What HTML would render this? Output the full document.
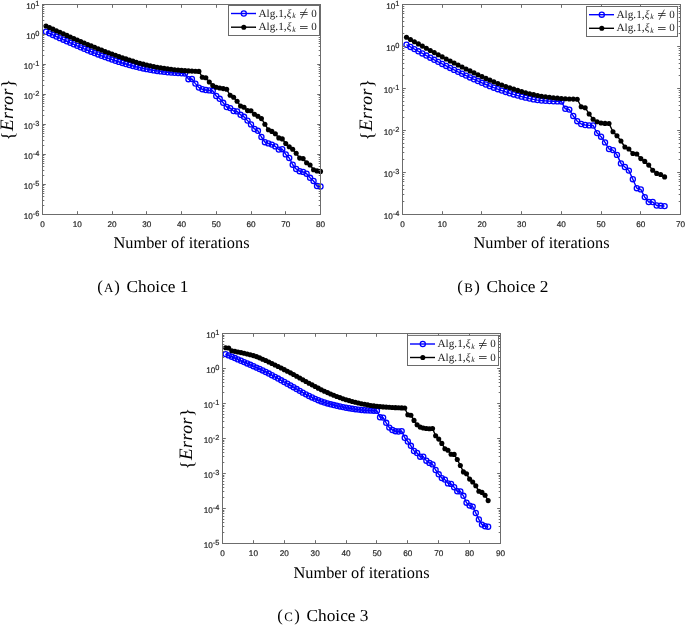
<!DOCTYPE html>
<html>
<head>
<meta charset="utf-8">
<title>Error vs. number of iterations</title>
<style>
html, body { margin: 0; padding: 0; background: #ffffff; }
body { width: 685px; height: 625px; overflow: hidden; font-family: "Liberation Sans", sans-serif; }
svg { display: block; }
.txt { filter: grayscale(1); }
</style>
</head>
<body>
<svg width="685" height="625" viewBox="0 0 685 625" text-rendering="geometricPrecision">
<rect width="685" height="625" fill="#ffffff"/>
<path d="M45.98 31.76 L49.45 33.37 L52.92 34.96 L56.4 36.55 L59.88 38.13 L63.35 39.7 L66.83 41.26 L70.3 42.8 L73.78 44.33 L77.25 45.84 L80.72 47.33 L84.2 48.8 L87.68 50.25 L91.15 51.68 L94.62 53.07 L98.1 54.44 L101.58 55.78 L105.05 57.08 L108.53 58.34 L112 59.57 L115.48 60.75 L118.95 61.88 L122.42 62.97 L125.9 64.01 L129.38 65 L132.85 65.94 L136.32 66.83 L139.8 67.66 L143.28 68.43 L146.75 69.15 L150.23 69.8 L153.7 70.39 L157.18 70.93 L160.65 71.42 L164.12 71.86 L167.6 72.25 L171.08 72.58 L174.55 72.87 L178.03 73.1 L181.5 73.3 L184.97 73.46 L188.45 79.2 L191.93 79 L195.4 83.6 L198.88 87.6 L202.35 89.2 L205.83 90 L209.3 90.4 L212.78 90.8 L216.25 96 L219.72 98.8 L223.2 102.8 L226.68 107 L230.15 108.1 L233.62 111 L237.1 111.4 L240.58 114.8 L244.05 116.8 L247.53 120.6 L251 124.4 L254.47 129 L257.95 130.8 L261.43 137 L264.9 142.2 L268.38 143.4 L271.85 144.6 L275.33 146.4 L278.8 149.6 L282.27 149.2 L285.75 154.4 L289.23 158 L292.7 164.7 L296.18 169 L299.65 171.2 L303.12 171.9 L306.6 173.7 L310.07 177.8 L313.55 181 L317.03 186 L320.5 186.5" fill="none" stroke="#0000ff" stroke-width="1.4" stroke-linejoin="round"/>
<g fill="none" stroke="#0000ff" stroke-width="1.3">
<circle cx="45.98" cy="31.76" r="2.55"/>
<circle cx="49.45" cy="33.37" r="2.55"/>
<circle cx="52.92" cy="34.96" r="2.55"/>
<circle cx="56.4" cy="36.55" r="2.55"/>
<circle cx="59.88" cy="38.13" r="2.55"/>
<circle cx="63.35" cy="39.7" r="2.55"/>
<circle cx="66.83" cy="41.26" r="2.55"/>
<circle cx="70.3" cy="42.8" r="2.55"/>
<circle cx="73.78" cy="44.33" r="2.55"/>
<circle cx="77.25" cy="45.84" r="2.55"/>
<circle cx="80.72" cy="47.33" r="2.55"/>
<circle cx="84.2" cy="48.8" r="2.55"/>
<circle cx="87.68" cy="50.25" r="2.55"/>
<circle cx="91.15" cy="51.68" r="2.55"/>
<circle cx="94.62" cy="53.07" r="2.55"/>
<circle cx="98.1" cy="54.44" r="2.55"/>
<circle cx="101.58" cy="55.78" r="2.55"/>
<circle cx="105.05" cy="57.08" r="2.55"/>
<circle cx="108.53" cy="58.34" r="2.55"/>
<circle cx="112" cy="59.57" r="2.55"/>
<circle cx="115.48" cy="60.75" r="2.55"/>
<circle cx="118.95" cy="61.88" r="2.55"/>
<circle cx="122.42" cy="62.97" r="2.55"/>
<circle cx="125.9" cy="64.01" r="2.55"/>
<circle cx="129.38" cy="65" r="2.55"/>
<circle cx="132.85" cy="65.94" r="2.55"/>
<circle cx="136.32" cy="66.83" r="2.55"/>
<circle cx="139.8" cy="67.66" r="2.55"/>
<circle cx="143.28" cy="68.43" r="2.55"/>
<circle cx="146.75" cy="69.15" r="2.55"/>
<circle cx="150.23" cy="69.8" r="2.55"/>
<circle cx="153.7" cy="70.39" r="2.55"/>
<circle cx="157.18" cy="70.93" r="2.55"/>
<circle cx="160.65" cy="71.42" r="2.55"/>
<circle cx="164.12" cy="71.86" r="2.55"/>
<circle cx="167.6" cy="72.25" r="2.55"/>
<circle cx="171.08" cy="72.58" r="2.55"/>
<circle cx="174.55" cy="72.87" r="2.55"/>
<circle cx="178.03" cy="73.1" r="2.55"/>
<circle cx="181.5" cy="73.3" r="2.55"/>
<circle cx="184.97" cy="73.46" r="2.55"/>
<circle cx="188.45" cy="79.2" r="2.55"/>
<circle cx="191.93" cy="79" r="2.55"/>
<circle cx="195.4" cy="83.6" r="2.55"/>
<circle cx="198.88" cy="87.6" r="2.55"/>
<circle cx="202.35" cy="89.2" r="2.55"/>
<circle cx="205.83" cy="90" r="2.55"/>
<circle cx="209.3" cy="90.4" r="2.55"/>
<circle cx="212.78" cy="90.8" r="2.55"/>
<circle cx="216.25" cy="96" r="2.55"/>
<circle cx="219.72" cy="98.8" r="2.55"/>
<circle cx="223.2" cy="102.8" r="2.55"/>
<circle cx="226.68" cy="107" r="2.55"/>
<circle cx="230.15" cy="108.1" r="2.55"/>
<circle cx="233.62" cy="111" r="2.55"/>
<circle cx="237.1" cy="111.4" r="2.55"/>
<circle cx="240.58" cy="114.8" r="2.55"/>
<circle cx="244.05" cy="116.8" r="2.55"/>
<circle cx="247.53" cy="120.6" r="2.55"/>
<circle cx="251" cy="124.4" r="2.55"/>
<circle cx="254.47" cy="129" r="2.55"/>
<circle cx="257.95" cy="130.8" r="2.55"/>
<circle cx="261.43" cy="137" r="2.55"/>
<circle cx="264.9" cy="142.2" r="2.55"/>
<circle cx="268.38" cy="143.4" r="2.55"/>
<circle cx="271.85" cy="144.6" r="2.55"/>
<circle cx="275.33" cy="146.4" r="2.55"/>
<circle cx="278.8" cy="149.6" r="2.55"/>
<circle cx="282.27" cy="149.2" r="2.55"/>
<circle cx="285.75" cy="154.4" r="2.55"/>
<circle cx="289.23" cy="158" r="2.55"/>
<circle cx="292.7" cy="164.7" r="2.55"/>
<circle cx="296.18" cy="169" r="2.55"/>
<circle cx="299.65" cy="171.2" r="2.55"/>
<circle cx="303.12" cy="171.9" r="2.55"/>
<circle cx="306.6" cy="173.7" r="2.55"/>
<circle cx="310.07" cy="177.8" r="2.55"/>
<circle cx="313.55" cy="181" r="2.55"/>
<circle cx="317.03" cy="186" r="2.55"/>
<circle cx="320.5" cy="186.5" r="2.55"/>
</g>
<path d="M45.98 25.97 L49.45 27.56 L52.92 29.14 L56.4 30.71 L59.88 32.28 L63.35 33.84 L66.83 35.39 L70.3 36.93 L73.78 38.46 L77.25 39.97 L80.72 41.48 L84.2 42.96 L87.68 44.43 L91.15 45.88 L94.62 47.31 L98.1 48.71 L101.58 50.09 L105.05 51.44 L108.53 52.76 L112 54.05 L115.48 55.3 L118.95 56.52 L122.42 57.71 L125.9 58.88 L129.38 60.02 L132.85 61.12 L136.32 62.19 L139.8 63.19 L143.28 64.14 L146.75 65.02 L150.23 65.83 L153.7 66.56 L157.18 67.23 L160.65 67.83 L164.12 68.37 L167.6 68.87 L171.08 69.31 L174.55 69.71 L178.03 70.08 L181.5 70.39 L184.97 70.67 L188.45 70.9 L191.93 71.1 L195.4 71.26 L198.88 71.4 L202.35 77.2 L205.83 77.8 L209.3 82 L212.78 85.6 L216.25 87.2 L219.72 88 L223.2 88.6 L226.68 89.3 L230.15 95.3 L233.62 97.3 L237.1 101.3 L240.58 106 L244.05 107.2 L247.53 110.6 L251 110.8 L254.47 114.2 L257.95 116.2 L261.43 118.6 L264.9 124.2 L268.38 129.8 L271.85 131.4 L275.33 133.8 L278.8 137.9 L282.27 138.9 L285.75 143.5 L289.23 146.8 L292.7 149.2 L296.18 153.2 L299.65 158.1 L303.12 158.6 L306.6 162.7 L310.07 165 L313.55 169.7 L317.03 170.9 L320.5 171.4" fill="none" stroke="#000" stroke-width="1.4" stroke-linejoin="round"/>
<g fill="#000">
<circle cx="45.98" cy="25.97" r="2.55"/>
<circle cx="49.45" cy="27.56" r="2.55"/>
<circle cx="52.92" cy="29.14" r="2.55"/>
<circle cx="56.4" cy="30.71" r="2.55"/>
<circle cx="59.88" cy="32.28" r="2.55"/>
<circle cx="63.35" cy="33.84" r="2.55"/>
<circle cx="66.83" cy="35.39" r="2.55"/>
<circle cx="70.3" cy="36.93" r="2.55"/>
<circle cx="73.78" cy="38.46" r="2.55"/>
<circle cx="77.25" cy="39.97" r="2.55"/>
<circle cx="80.72" cy="41.48" r="2.55"/>
<circle cx="84.2" cy="42.96" r="2.55"/>
<circle cx="87.68" cy="44.43" r="2.55"/>
<circle cx="91.15" cy="45.88" r="2.55"/>
<circle cx="94.62" cy="47.31" r="2.55"/>
<circle cx="98.1" cy="48.71" r="2.55"/>
<circle cx="101.58" cy="50.09" r="2.55"/>
<circle cx="105.05" cy="51.44" r="2.55"/>
<circle cx="108.53" cy="52.76" r="2.55"/>
<circle cx="112" cy="54.05" r="2.55"/>
<circle cx="115.48" cy="55.3" r="2.55"/>
<circle cx="118.95" cy="56.52" r="2.55"/>
<circle cx="122.42" cy="57.71" r="2.55"/>
<circle cx="125.9" cy="58.88" r="2.55"/>
<circle cx="129.38" cy="60.02" r="2.55"/>
<circle cx="132.85" cy="61.12" r="2.55"/>
<circle cx="136.32" cy="62.19" r="2.55"/>
<circle cx="139.8" cy="63.19" r="2.55"/>
<circle cx="143.28" cy="64.14" r="2.55"/>
<circle cx="146.75" cy="65.02" r="2.55"/>
<circle cx="150.23" cy="65.83" r="2.55"/>
<circle cx="153.7" cy="66.56" r="2.55"/>
<circle cx="157.18" cy="67.23" r="2.55"/>
<circle cx="160.65" cy="67.83" r="2.55"/>
<circle cx="164.12" cy="68.37" r="2.55"/>
<circle cx="167.6" cy="68.87" r="2.55"/>
<circle cx="171.08" cy="69.31" r="2.55"/>
<circle cx="174.55" cy="69.71" r="2.55"/>
<circle cx="178.03" cy="70.08" r="2.55"/>
<circle cx="181.5" cy="70.39" r="2.55"/>
<circle cx="184.97" cy="70.67" r="2.55"/>
<circle cx="188.45" cy="70.9" r="2.55"/>
<circle cx="191.93" cy="71.1" r="2.55"/>
<circle cx="195.4" cy="71.26" r="2.55"/>
<circle cx="198.88" cy="71.4" r="2.55"/>
<circle cx="202.35" cy="77.2" r="2.55"/>
<circle cx="205.83" cy="77.8" r="2.55"/>
<circle cx="209.3" cy="82" r="2.55"/>
<circle cx="212.78" cy="85.6" r="2.55"/>
<circle cx="216.25" cy="87.2" r="2.55"/>
<circle cx="219.72" cy="88" r="2.55"/>
<circle cx="223.2" cy="88.6" r="2.55"/>
<circle cx="226.68" cy="89.3" r="2.55"/>
<circle cx="230.15" cy="95.3" r="2.55"/>
<circle cx="233.62" cy="97.3" r="2.55"/>
<circle cx="237.1" cy="101.3" r="2.55"/>
<circle cx="240.58" cy="106" r="2.55"/>
<circle cx="244.05" cy="107.2" r="2.55"/>
<circle cx="247.53" cy="110.6" r="2.55"/>
<circle cx="251" cy="110.8" r="2.55"/>
<circle cx="254.47" cy="114.2" r="2.55"/>
<circle cx="257.95" cy="116.2" r="2.55"/>
<circle cx="261.43" cy="118.6" r="2.55"/>
<circle cx="264.9" cy="124.2" r="2.55"/>
<circle cx="268.38" cy="129.8" r="2.55"/>
<circle cx="271.85" cy="131.4" r="2.55"/>
<circle cx="275.33" cy="133.8" r="2.55"/>
<circle cx="278.8" cy="137.9" r="2.55"/>
<circle cx="282.27" cy="138.9" r="2.55"/>
<circle cx="285.75" cy="143.5" r="2.55"/>
<circle cx="289.23" cy="146.8" r="2.55"/>
<circle cx="292.7" cy="149.2" r="2.55"/>
<circle cx="296.18" cy="153.2" r="2.55"/>
<circle cx="299.65" cy="158.1" r="2.55"/>
<circle cx="303.12" cy="158.6" r="2.55"/>
<circle cx="306.6" cy="162.7" r="2.55"/>
<circle cx="310.07" cy="165" r="2.55"/>
<circle cx="313.55" cy="169.7" r="2.55"/>
<circle cx="317.03" cy="170.9" r="2.55"/>
<circle cx="320.5" cy="171.4" r="2.55"/>
</g>
<path d="M42.5 214.5 v-3.3 M42.5 4.5 v3.3 M77.5 214.5 v-3.3 M77.5 4.5 v3.3 M112.5 214.5 v-3.3 M112.5 4.5 v3.3 M146.5 214.5 v-3.3 M146.5 4.5 v3.3 M181.5 214.5 v-3.3 M181.5 4.5 v3.3 M216.5 214.5 v-3.3 M216.5 4.5 v3.3 M251.5 214.5 v-3.3 M251.5 4.5 v3.3 M285.5 214.5 v-3.3 M285.5 4.5 v3.3 M320.5 214.5 v-3.3 M320.5 4.5 v3.3 M42.5 4.5 h3.3 M320.5 4.5 h-3.3 M42.5 25.5 h1.8 M320.5 25.5 h-1.8 M42.5 20.5 h1.8 M320.5 20.5 h-1.8 M42.5 16.5 h1.8 M320.5 16.5 h-1.8 M42.5 13.5 h1.8 M320.5 13.5 h-1.8 M42.5 11.5 h1.8 M320.5 11.5 h-1.8 M42.5 9.5 h1.8 M320.5 9.5 h-1.8 M42.5 7.5 h1.8 M320.5 7.5 h-1.8 M42.5 5.5 h1.8 M320.5 5.5 h-1.8 M42.5 34.5 h3.3 M320.5 34.5 h-3.3 M42.5 55.5 h1.8 M320.5 55.5 h-1.8 M42.5 50.5 h1.8 M320.5 50.5 h-1.8 M42.5 46.5 h1.8 M320.5 46.5 h-1.8 M42.5 43.5 h1.8 M320.5 43.5 h-1.8 M42.5 41.5 h1.8 M320.5 41.5 h-1.8 M42.5 39.5 h1.8 M320.5 39.5 h-1.8 M42.5 37.5 h1.8 M320.5 37.5 h-1.8 M42.5 35.5 h1.8 M320.5 35.5 h-1.8 M42.5 64.5 h3.3 M320.5 64.5 h-3.3 M42.5 85.5 h1.8 M320.5 85.5 h-1.8 M42.5 80.5 h1.8 M320.5 80.5 h-1.8 M42.5 76.5 h1.8 M320.5 76.5 h-1.8 M42.5 73.5 h1.8 M320.5 73.5 h-1.8 M42.5 71.5 h1.8 M320.5 71.5 h-1.8 M42.5 69.5 h1.8 M320.5 69.5 h-1.8 M42.5 67.5 h1.8 M320.5 67.5 h-1.8 M42.5 65.5 h1.8 M320.5 65.5 h-1.8 M42.5 94.5 h3.3 M320.5 94.5 h-3.3 M42.5 115.5 h1.8 M320.5 115.5 h-1.8 M42.5 110.5 h1.8 M320.5 110.5 h-1.8 M42.5 106.5 h1.8 M320.5 106.5 h-1.8 M42.5 103.5 h1.8 M320.5 103.5 h-1.8 M42.5 101.5 h1.8 M320.5 101.5 h-1.8 M42.5 99.5 h1.8 M320.5 99.5 h-1.8 M42.5 97.5 h1.8 M320.5 97.5 h-1.8 M42.5 95.5 h1.8 M320.5 95.5 h-1.8 M42.5 124.5 h3.3 M320.5 124.5 h-3.3 M42.5 145.5 h1.8 M320.5 145.5 h-1.8 M42.5 140.5 h1.8 M320.5 140.5 h-1.8 M42.5 136.5 h1.8 M320.5 136.5 h-1.8 M42.5 133.5 h1.8 M320.5 133.5 h-1.8 M42.5 131.5 h1.8 M320.5 131.5 h-1.8 M42.5 129.5 h1.8 M320.5 129.5 h-1.8 M42.5 127.5 h1.8 M320.5 127.5 h-1.8 M42.5 125.5 h1.8 M320.5 125.5 h-1.8 M42.5 154.5 h3.3 M320.5 154.5 h-3.3 M42.5 175.5 h1.8 M320.5 175.5 h-1.8 M42.5 170.5 h1.8 M320.5 170.5 h-1.8 M42.5 166.5 h1.8 M320.5 166.5 h-1.8 M42.5 163.5 h1.8 M320.5 163.5 h-1.8 M42.5 161.5 h1.8 M320.5 161.5 h-1.8 M42.5 159.5 h1.8 M320.5 159.5 h-1.8 M42.5 157.5 h1.8 M320.5 157.5 h-1.8 M42.5 155.5 h1.8 M320.5 155.5 h-1.8 M42.5 184.5 h3.3 M320.5 184.5 h-3.3 M42.5 205.5 h1.8 M320.5 205.5 h-1.8 M42.5 200.5 h1.8 M320.5 200.5 h-1.8 M42.5 196.5 h1.8 M320.5 196.5 h-1.8 M42.5 193.5 h1.8 M320.5 193.5 h-1.8 M42.5 191.5 h1.8 M320.5 191.5 h-1.8 M42.5 189.5 h1.8 M320.5 189.5 h-1.8 M42.5 187.5 h1.8 M320.5 187.5 h-1.8 M42.5 185.5 h1.8 M320.5 185.5 h-1.8 M42.5 214.5 h3.3 M320.5 214.5 h-3.3" fill="none" stroke="#6c6c6c" stroke-width="1"/>
<rect x="42.5" y="4.5" width="278" height="210" fill="none" stroke="#6c6c6c" stroke-width="1.0"/>
<rect x="228.5" y="5.5" width="91" height="30" fill="#fff" stroke="#6a6a6a" stroke-width="1"/>
<path d="M231 13.5 H256" stroke="#0000ff" stroke-width="1.4"/>
<circle cx="243.8" cy="13.5" r="2.55" fill="none" stroke="#0000ff" stroke-width="1.3"/>
<path d="M231 27.2 H256" stroke="#000" stroke-width="1.4"/>
<circle cx="243.8" cy="27.2" r="2.55" fill="#000"/>
<path d="M300 12.5 h7.6 M300 14.5 h7.6 M301.2 18.65 L306.3 8.45" fill="none" stroke="#1a1a1a" stroke-width="0.75"/>
<path d="M300 26.5 h7.6 M300 28.5 h7.6" fill="none" stroke="#1a1a1a" stroke-width="0.75"/>
<path d="M406.47 44.73 L410.44 46.93 L414.41 49.11 L418.39 51.28 L422.36 53.43 L426.33 55.57 L430.3 57.69 L434.27 59.79 L438.24 61.87 L442.21 63.93 L446.19 65.96 L450.16 67.96 L454.13 69.92 L458.1 71.86 L462.07 73.75 L466.04 75.62 L470.01 77.46 L473.99 79.28 L477.96 81.07 L481.93 82.81 L485.9 84.5 L489.87 86.13 L493.84 87.69 L497.81 89.18 L501.79 90.59 L505.76 91.94 L509.73 93.23 L513.7 94.45 L517.67 95.6 L521.64 96.67 L525.61 97.66 L529.59 98.57 L533.56 99.38 L537.53 100.09 L541.5 100.57 L545.47 100.87 L549.44 101.1 L553.41 101.29 L557.39 101.41 L561.36 101.45 L565.33 108.8 L569.3 109.6 L573.27 116 L577.24 121.2 L581.21 124 L585.19 125 L589.16 125.4 L593.13 125.5 L597.1 133.1 L601.07 136.7 L605.04 142.4 L609.01 149 L612.99 150.1 L616.96 154.9 L620.93 163.4 L624.9 167 L628.87 170.6 L632.84 179.2 L636.81 188.2 L640.79 189.4 L644.76 197.1 L648.73 202 L652.7 202 L656.67 205.5 L660.64 205.8 L664.61 206.1" fill="none" stroke="#0000ff" stroke-width="1.4" stroke-linejoin="round"/>
<g fill="none" stroke="#0000ff" stroke-width="1.3">
<circle cx="406.47" cy="44.73" r="2.55"/>
<circle cx="410.44" cy="46.93" r="2.55"/>
<circle cx="414.41" cy="49.11" r="2.55"/>
<circle cx="418.39" cy="51.28" r="2.55"/>
<circle cx="422.36" cy="53.43" r="2.55"/>
<circle cx="426.33" cy="55.57" r="2.55"/>
<circle cx="430.3" cy="57.69" r="2.55"/>
<circle cx="434.27" cy="59.79" r="2.55"/>
<circle cx="438.24" cy="61.87" r="2.55"/>
<circle cx="442.21" cy="63.93" r="2.55"/>
<circle cx="446.19" cy="65.96" r="2.55"/>
<circle cx="450.16" cy="67.96" r="2.55"/>
<circle cx="454.13" cy="69.92" r="2.55"/>
<circle cx="458.1" cy="71.86" r="2.55"/>
<circle cx="462.07" cy="73.75" r="2.55"/>
<circle cx="466.04" cy="75.62" r="2.55"/>
<circle cx="470.01" cy="77.46" r="2.55"/>
<circle cx="473.99" cy="79.28" r="2.55"/>
<circle cx="477.96" cy="81.07" r="2.55"/>
<circle cx="481.93" cy="82.81" r="2.55"/>
<circle cx="485.9" cy="84.5" r="2.55"/>
<circle cx="489.87" cy="86.13" r="2.55"/>
<circle cx="493.84" cy="87.69" r="2.55"/>
<circle cx="497.81" cy="89.18" r="2.55"/>
<circle cx="501.79" cy="90.59" r="2.55"/>
<circle cx="505.76" cy="91.94" r="2.55"/>
<circle cx="509.73" cy="93.23" r="2.55"/>
<circle cx="513.7" cy="94.45" r="2.55"/>
<circle cx="517.67" cy="95.6" r="2.55"/>
<circle cx="521.64" cy="96.67" r="2.55"/>
<circle cx="525.61" cy="97.66" r="2.55"/>
<circle cx="529.59" cy="98.57" r="2.55"/>
<circle cx="533.56" cy="99.38" r="2.55"/>
<circle cx="537.53" cy="100.09" r="2.55"/>
<circle cx="541.5" cy="100.57" r="2.55"/>
<circle cx="545.47" cy="100.87" r="2.55"/>
<circle cx="549.44" cy="101.1" r="2.55"/>
<circle cx="553.41" cy="101.29" r="2.55"/>
<circle cx="557.39" cy="101.41" r="2.55"/>
<circle cx="561.36" cy="101.45" r="2.55"/>
<circle cx="565.33" cy="108.8" r="2.55"/>
<circle cx="569.3" cy="109.6" r="2.55"/>
<circle cx="573.27" cy="116" r="2.55"/>
<circle cx="577.24" cy="121.2" r="2.55"/>
<circle cx="581.21" cy="124" r="2.55"/>
<circle cx="585.19" cy="125" r="2.55"/>
<circle cx="589.16" cy="125.4" r="2.55"/>
<circle cx="593.13" cy="125.5" r="2.55"/>
<circle cx="597.1" cy="133.1" r="2.55"/>
<circle cx="601.07" cy="136.7" r="2.55"/>
<circle cx="605.04" cy="142.4" r="2.55"/>
<circle cx="609.01" cy="149" r="2.55"/>
<circle cx="612.99" cy="150.1" r="2.55"/>
<circle cx="616.96" cy="154.9" r="2.55"/>
<circle cx="620.93" cy="163.4" r="2.55"/>
<circle cx="624.9" cy="167" r="2.55"/>
<circle cx="628.87" cy="170.6" r="2.55"/>
<circle cx="632.84" cy="179.2" r="2.55"/>
<circle cx="636.81" cy="188.2" r="2.55"/>
<circle cx="640.79" cy="189.4" r="2.55"/>
<circle cx="644.76" cy="197.1" r="2.55"/>
<circle cx="648.73" cy="202" r="2.55"/>
<circle cx="652.7" cy="202" r="2.55"/>
<circle cx="656.67" cy="205.5" r="2.55"/>
<circle cx="660.64" cy="205.8" r="2.55"/>
<circle cx="664.61" cy="206.1" r="2.55"/>
</g>
<path d="M406.47 37.27 L410.44 39.49 L414.41 41.71 L418.39 43.91 L422.36 46.1 L426.33 48.28 L430.3 50.45 L434.27 52.6 L438.24 54.73 L442.21 56.84 L446.19 58.93 L450.16 60.99 L454.13 63.03 L458.1 65.04 L462.07 67.01 L466.04 68.97 L470.01 70.91 L473.99 72.84 L477.96 74.73 L481.93 76.59 L485.9 78.39 L489.87 80.14 L493.84 81.83 L497.81 83.44 L501.79 84.97 L505.76 86.44 L509.73 87.84 L513.7 89.17 L517.67 90.42 L521.64 91.6 L525.61 92.7 L529.59 93.71 L533.56 94.63 L537.53 95.47 L541.5 96.19 L545.47 96.8 L549.44 97.32 L553.41 97.76 L557.39 98.15 L561.36 98.49 L565.33 98.76 L569.3 98.97 L573.27 99.12 L577.24 99.22 L581.21 106.8 L585.19 107.7 L589.16 114 L593.13 119.3 L597.1 121.7 L601.07 123 L605.04 123.4 L609.01 123.5 L612.99 131.7 L616.96 135.7 L620.93 141 L624.9 147 L628.87 149 L632.84 153.5 L636.81 154 L640.79 158.6 L644.76 161.4 L648.73 165.1 L652.7 170.2 L656.67 173.4 L660.64 174.5 L664.61 176.9" fill="none" stroke="#000" stroke-width="1.4" stroke-linejoin="round"/>
<g fill="#000">
<circle cx="406.47" cy="37.27" r="2.55"/>
<circle cx="410.44" cy="39.49" r="2.55"/>
<circle cx="414.41" cy="41.71" r="2.55"/>
<circle cx="418.39" cy="43.91" r="2.55"/>
<circle cx="422.36" cy="46.1" r="2.55"/>
<circle cx="426.33" cy="48.28" r="2.55"/>
<circle cx="430.3" cy="50.45" r="2.55"/>
<circle cx="434.27" cy="52.6" r="2.55"/>
<circle cx="438.24" cy="54.73" r="2.55"/>
<circle cx="442.21" cy="56.84" r="2.55"/>
<circle cx="446.19" cy="58.93" r="2.55"/>
<circle cx="450.16" cy="60.99" r="2.55"/>
<circle cx="454.13" cy="63.03" r="2.55"/>
<circle cx="458.1" cy="65.04" r="2.55"/>
<circle cx="462.07" cy="67.01" r="2.55"/>
<circle cx="466.04" cy="68.97" r="2.55"/>
<circle cx="470.01" cy="70.91" r="2.55"/>
<circle cx="473.99" cy="72.84" r="2.55"/>
<circle cx="477.96" cy="74.73" r="2.55"/>
<circle cx="481.93" cy="76.59" r="2.55"/>
<circle cx="485.9" cy="78.39" r="2.55"/>
<circle cx="489.87" cy="80.14" r="2.55"/>
<circle cx="493.84" cy="81.83" r="2.55"/>
<circle cx="497.81" cy="83.44" r="2.55"/>
<circle cx="501.79" cy="84.97" r="2.55"/>
<circle cx="505.76" cy="86.44" r="2.55"/>
<circle cx="509.73" cy="87.84" r="2.55"/>
<circle cx="513.7" cy="89.17" r="2.55"/>
<circle cx="517.67" cy="90.42" r="2.55"/>
<circle cx="521.64" cy="91.6" r="2.55"/>
<circle cx="525.61" cy="92.7" r="2.55"/>
<circle cx="529.59" cy="93.71" r="2.55"/>
<circle cx="533.56" cy="94.63" r="2.55"/>
<circle cx="537.53" cy="95.47" r="2.55"/>
<circle cx="541.5" cy="96.19" r="2.55"/>
<circle cx="545.47" cy="96.8" r="2.55"/>
<circle cx="549.44" cy="97.32" r="2.55"/>
<circle cx="553.41" cy="97.76" r="2.55"/>
<circle cx="557.39" cy="98.15" r="2.55"/>
<circle cx="561.36" cy="98.49" r="2.55"/>
<circle cx="565.33" cy="98.76" r="2.55"/>
<circle cx="569.3" cy="98.97" r="2.55"/>
<circle cx="573.27" cy="99.12" r="2.55"/>
<circle cx="577.24" cy="99.22" r="2.55"/>
<circle cx="581.21" cy="106.8" r="2.55"/>
<circle cx="585.19" cy="107.7" r="2.55"/>
<circle cx="589.16" cy="114" r="2.55"/>
<circle cx="593.13" cy="119.3" r="2.55"/>
<circle cx="597.1" cy="121.7" r="2.55"/>
<circle cx="601.07" cy="123" r="2.55"/>
<circle cx="605.04" cy="123.4" r="2.55"/>
<circle cx="609.01" cy="123.5" r="2.55"/>
<circle cx="612.99" cy="131.7" r="2.55"/>
<circle cx="616.96" cy="135.7" r="2.55"/>
<circle cx="620.93" cy="141" r="2.55"/>
<circle cx="624.9" cy="147" r="2.55"/>
<circle cx="628.87" cy="149" r="2.55"/>
<circle cx="632.84" cy="153.5" r="2.55"/>
<circle cx="636.81" cy="154" r="2.55"/>
<circle cx="640.79" cy="158.6" r="2.55"/>
<circle cx="644.76" cy="161.4" r="2.55"/>
<circle cx="648.73" cy="165.1" r="2.55"/>
<circle cx="652.7" cy="170.2" r="2.55"/>
<circle cx="656.67" cy="173.4" r="2.55"/>
<circle cx="660.64" cy="174.5" r="2.55"/>
<circle cx="664.61" cy="176.9" r="2.55"/>
</g>
<path d="M402.5 214.5 v-3.3 M402.5 4.5 v3.3 M442.5 214.5 v-3.3 M442.5 4.5 v3.3 M481.5 214.5 v-3.3 M481.5 4.5 v3.3 M521.5 214.5 v-3.3 M521.5 4.5 v3.3 M561.5 214.5 v-3.3 M561.5 4.5 v3.3 M601.5 214.5 v-3.3 M601.5 4.5 v3.3 M640.5 214.5 v-3.3 M640.5 4.5 v3.3 M680.5 214.5 v-3.3 M680.5 4.5 v3.3 M402.5 4.5 h3.3 M680.5 4.5 h-3.3 M402.5 33.5 h1.8 M680.5 33.5 h-1.8 M402.5 26.5 h1.8 M680.5 26.5 h-1.8 M402.5 21.5 h1.8 M680.5 21.5 h-1.8 M402.5 17.5 h1.8 M680.5 17.5 h-1.8 M402.5 13.5 h1.8 M680.5 13.5 h-1.8 M402.5 11.5 h1.8 M680.5 11.5 h-1.8 M402.5 8.5 h1.8 M680.5 8.5 h-1.8 M402.5 6.5 h1.8 M680.5 6.5 h-1.8 M402.5 46.5 h3.3 M680.5 46.5 h-3.3 M402.5 75.5 h1.8 M680.5 75.5 h-1.8 M402.5 68.5 h1.8 M680.5 68.5 h-1.8 M402.5 63.5 h1.8 M680.5 63.5 h-1.8 M402.5 59.5 h1.8 M680.5 59.5 h-1.8 M402.5 55.5 h1.8 M680.5 55.5 h-1.8 M402.5 53.5 h1.8 M680.5 53.5 h-1.8 M402.5 50.5 h1.8 M680.5 50.5 h-1.8 M402.5 48.5 h1.8 M680.5 48.5 h-1.8 M402.5 88.5 h3.3 M680.5 88.5 h-3.3 M402.5 117.5 h1.8 M680.5 117.5 h-1.8 M402.5 110.5 h1.8 M680.5 110.5 h-1.8 M402.5 105.5 h1.8 M680.5 105.5 h-1.8 M402.5 101.5 h1.8 M680.5 101.5 h-1.8 M402.5 97.5 h1.8 M680.5 97.5 h-1.8 M402.5 95.5 h1.8 M680.5 95.5 h-1.8 M402.5 92.5 h1.8 M680.5 92.5 h-1.8 M402.5 90.5 h1.8 M680.5 90.5 h-1.8 M402.5 130.5 h3.3 M680.5 130.5 h-3.3 M402.5 159.5 h1.8 M680.5 159.5 h-1.8 M402.5 152.5 h1.8 M680.5 152.5 h-1.8 M402.5 147.5 h1.8 M680.5 147.5 h-1.8 M402.5 143.5 h1.8 M680.5 143.5 h-1.8 M402.5 139.5 h1.8 M680.5 139.5 h-1.8 M402.5 137.5 h1.8 M680.5 137.5 h-1.8 M402.5 134.5 h1.8 M680.5 134.5 h-1.8 M402.5 132.5 h1.8 M680.5 132.5 h-1.8 M402.5 172.5 h3.3 M680.5 172.5 h-3.3 M402.5 201.5 h1.8 M680.5 201.5 h-1.8 M402.5 194.5 h1.8 M680.5 194.5 h-1.8 M402.5 189.5 h1.8 M680.5 189.5 h-1.8 M402.5 185.5 h1.8 M680.5 185.5 h-1.8 M402.5 181.5 h1.8 M680.5 181.5 h-1.8 M402.5 179.5 h1.8 M680.5 179.5 h-1.8 M402.5 176.5 h1.8 M680.5 176.5 h-1.8 M402.5 174.5 h1.8 M680.5 174.5 h-1.8 M402.5 214.5 h3.3 M680.5 214.5 h-3.3" fill="none" stroke="#6c6c6c" stroke-width="1"/>
<rect x="402.5" y="4.5" width="278" height="210" fill="none" stroke="#6c6c6c" stroke-width="1.0"/>
<rect x="586.5" y="6.5" width="91" height="30" fill="#fff" stroke="#6a6a6a" stroke-width="1"/>
<path d="M589 14.7 H614" stroke="#0000ff" stroke-width="1.4"/>
<circle cx="601.8" cy="14.7" r="2.55" fill="none" stroke="#0000ff" stroke-width="1.3"/>
<path d="M589 28.3 H614" stroke="#000" stroke-width="1.4"/>
<circle cx="601.8" cy="28.3" r="2.55" fill="#000"/>
<path d="M658 13.5 h7.6 M658 15.5 h7.6 M659.2 19.85 L664.3 9.65" fill="none" stroke="#1a1a1a" stroke-width="0.75"/>
<path d="M658 27.5 h7.6 M658 29.5 h7.6" fill="none" stroke="#1a1a1a" stroke-width="0.75"/>
<path d="M225.59 354.1 L228.68 355.41 L231.77 356.72 L234.86 358.05 L237.94 359.39 L241.03 360.75 L244.12 362.1 L247.21 363.45 L250.3 364.81 L253.39 366.18 L256.48 367.58 L259.57 369 L262.66 370.47 L265.74 371.98 L268.83 373.56 L271.92 375.18 L275.01 376.86 L278.1 378.56 L281.19 380.28 L284.28 382.01 L287.37 383.74 L290.46 385.46 L293.54 387.22 L296.63 389.03 L299.72 390.85 L302.81 392.64 L305.9 394.35 L308.99 395.95 L312.08 397.43 L315.17 398.85 L318.26 400.2 L321.34 401.43 L324.43 402.5 L327.52 403.43 L330.61 404.28 L333.7 405.05 L336.79 405.76 L339.88 406.43 L342.97 407.08 L346.06 407.7 L349.14 408.27 L352.23 408.78 L355.32 409.21 L358.41 409.6 L361.5 409.94 L364.59 410.2 L367.68 410.4 L370.77 410.58 L373.86 410.72 L376.94 410.8 L380.03 417.3 L383.12 417.6 L386.21 422.8 L389.3 427.6 L392.39 430 L395.48 431.2 L398.57 431.5 L401.66 431.1 L404.74 437.8 L407.83 441.5 L410.92 445.8 L414.01 451 L417.1 453 L420.19 456.7 L423.28 456.6 L426.37 460.7 L429.46 462.9 L432.54 464.4 L435.63 470 L438.72 474.3 L441.81 478.1 L444.9 479.6 L447.99 483.4 L451.08 483.9 L454.17 487.2 L457.26 491.3 L460.34 491.4 L463.43 495.8 L466.52 502.7 L469.61 505.6 L472.7 506.6 L475.79 513 L478.88 519.4 L481.97 524.6 L485.06 526.2 L488.14 526.7" fill="none" stroke="#0000ff" stroke-width="1.4" stroke-linejoin="round"/>
<g fill="none" stroke="#0000ff" stroke-width="1.3">
<circle cx="225.59" cy="354.1" r="2.55"/>
<circle cx="228.68" cy="355.41" r="2.55"/>
<circle cx="231.77" cy="356.72" r="2.55"/>
<circle cx="234.86" cy="358.05" r="2.55"/>
<circle cx="237.94" cy="359.39" r="2.55"/>
<circle cx="241.03" cy="360.75" r="2.55"/>
<circle cx="244.12" cy="362.1" r="2.55"/>
<circle cx="247.21" cy="363.45" r="2.55"/>
<circle cx="250.3" cy="364.81" r="2.55"/>
<circle cx="253.39" cy="366.18" r="2.55"/>
<circle cx="256.48" cy="367.58" r="2.55"/>
<circle cx="259.57" cy="369" r="2.55"/>
<circle cx="262.66" cy="370.47" r="2.55"/>
<circle cx="265.74" cy="371.98" r="2.55"/>
<circle cx="268.83" cy="373.56" r="2.55"/>
<circle cx="271.92" cy="375.18" r="2.55"/>
<circle cx="275.01" cy="376.86" r="2.55"/>
<circle cx="278.1" cy="378.56" r="2.55"/>
<circle cx="281.19" cy="380.28" r="2.55"/>
<circle cx="284.28" cy="382.01" r="2.55"/>
<circle cx="287.37" cy="383.74" r="2.55"/>
<circle cx="290.46" cy="385.46" r="2.55"/>
<circle cx="293.54" cy="387.22" r="2.55"/>
<circle cx="296.63" cy="389.03" r="2.55"/>
<circle cx="299.72" cy="390.85" r="2.55"/>
<circle cx="302.81" cy="392.64" r="2.55"/>
<circle cx="305.9" cy="394.35" r="2.55"/>
<circle cx="308.99" cy="395.95" r="2.55"/>
<circle cx="312.08" cy="397.43" r="2.55"/>
<circle cx="315.17" cy="398.85" r="2.55"/>
<circle cx="318.26" cy="400.2" r="2.55"/>
<circle cx="321.34" cy="401.43" r="2.55"/>
<circle cx="324.43" cy="402.5" r="2.55"/>
<circle cx="327.52" cy="403.43" r="2.55"/>
<circle cx="330.61" cy="404.28" r="2.55"/>
<circle cx="333.7" cy="405.05" r="2.55"/>
<circle cx="336.79" cy="405.76" r="2.55"/>
<circle cx="339.88" cy="406.43" r="2.55"/>
<circle cx="342.97" cy="407.08" r="2.55"/>
<circle cx="346.06" cy="407.7" r="2.55"/>
<circle cx="349.14" cy="408.27" r="2.55"/>
<circle cx="352.23" cy="408.78" r="2.55"/>
<circle cx="355.32" cy="409.21" r="2.55"/>
<circle cx="358.41" cy="409.6" r="2.55"/>
<circle cx="361.5" cy="409.94" r="2.55"/>
<circle cx="364.59" cy="410.2" r="2.55"/>
<circle cx="367.68" cy="410.4" r="2.55"/>
<circle cx="370.77" cy="410.58" r="2.55"/>
<circle cx="373.86" cy="410.72" r="2.55"/>
<circle cx="376.94" cy="410.8" r="2.55"/>
<circle cx="380.03" cy="417.3" r="2.55"/>
<circle cx="383.12" cy="417.6" r="2.55"/>
<circle cx="386.21" cy="422.8" r="2.55"/>
<circle cx="389.3" cy="427.6" r="2.55"/>
<circle cx="392.39" cy="430" r="2.55"/>
<circle cx="395.48" cy="431.2" r="2.55"/>
<circle cx="398.57" cy="431.5" r="2.55"/>
<circle cx="401.66" cy="431.1" r="2.55"/>
<circle cx="404.74" cy="437.8" r="2.55"/>
<circle cx="407.83" cy="441.5" r="2.55"/>
<circle cx="410.92" cy="445.8" r="2.55"/>
<circle cx="414.01" cy="451" r="2.55"/>
<circle cx="417.1" cy="453" r="2.55"/>
<circle cx="420.19" cy="456.7" r="2.55"/>
<circle cx="423.28" cy="456.6" r="2.55"/>
<circle cx="426.37" cy="460.7" r="2.55"/>
<circle cx="429.46" cy="462.9" r="2.55"/>
<circle cx="432.54" cy="464.4" r="2.55"/>
<circle cx="435.63" cy="470" r="2.55"/>
<circle cx="438.72" cy="474.3" r="2.55"/>
<circle cx="441.81" cy="478.1" r="2.55"/>
<circle cx="444.9" cy="479.6" r="2.55"/>
<circle cx="447.99" cy="483.4" r="2.55"/>
<circle cx="451.08" cy="483.9" r="2.55"/>
<circle cx="454.17" cy="487.2" r="2.55"/>
<circle cx="457.26" cy="491.3" r="2.55"/>
<circle cx="460.34" cy="491.4" r="2.55"/>
<circle cx="463.43" cy="495.8" r="2.55"/>
<circle cx="466.52" cy="502.7" r="2.55"/>
<circle cx="469.61" cy="505.6" r="2.55"/>
<circle cx="472.7" cy="506.6" r="2.55"/>
<circle cx="475.79" cy="513" r="2.55"/>
<circle cx="478.88" cy="519.4" r="2.55"/>
<circle cx="481.97" cy="524.6" r="2.55"/>
<circle cx="485.06" cy="526.2" r="2.55"/>
<circle cx="488.14" cy="526.7" r="2.55"/>
</g>
<path d="M225.59 347.8 L228.68 348 L231.77 350.8 L234.86 351.37 L237.94 351.97 L241.03 352.62 L244.12 353.28 L247.21 353.97 L250.3 354.73 L253.39 355.6 L256.48 356.64 L259.57 357.87 L262.66 359.19 L265.74 360.54 L268.83 361.95 L271.92 363.44 L275.01 364.98 L278.1 366.53 L281.19 368.07 L284.28 369.63 L287.37 371.22 L290.46 372.85 L293.54 374.53 L296.63 376.26 L299.72 378.01 L302.81 379.76 L305.9 381.5 L308.99 383.2 L312.08 384.86 L315.17 386.52 L318.26 388.15 L321.34 389.72 L324.43 391.2 L327.52 392.61 L330.61 393.97 L333.7 395.27 L336.79 396.49 L339.88 397.62 L342.97 398.68 L346.06 399.68 L349.14 400.62 L352.23 401.49 L355.32 402.29 L358.41 403.02 L361.5 403.69 L364.59 404.3 L367.68 404.88 L370.77 405.43 L373.86 405.91 L376.94 406.3 L380.03 406.61 L383.12 406.88 L386.21 407.12 L389.3 407.32 L392.39 407.5 L395.48 407.66 L398.57 407.79 L401.66 407.91 L404.74 408 L407.83 414.7 L410.92 415.2 L414.01 420.4 L417.1 424.8 L420.19 427.1 L423.28 428 L426.37 428.5 L429.46 428.7 L432.54 428.5 L435.63 435.7 L438.72 439.1 L441.81 443.4 L444.9 448.7 L447.99 450.2 L451.08 454.3 L454.17 454.4 L457.26 459.5 L460.34 465.5 L463.43 471.9 L466.52 473.8 L469.61 479.1 L472.7 482 L475.79 485.8 L478.88 491.2 L481.97 492.4 L485.06 495.2 L488.14 500.6" fill="none" stroke="#000" stroke-width="1.4" stroke-linejoin="round"/>
<g fill="#000">
<circle cx="225.59" cy="347.8" r="2.55"/>
<circle cx="228.68" cy="348" r="2.55"/>
<circle cx="231.77" cy="350.8" r="2.55"/>
<circle cx="234.86" cy="351.37" r="2.55"/>
<circle cx="237.94" cy="351.97" r="2.55"/>
<circle cx="241.03" cy="352.62" r="2.55"/>
<circle cx="244.12" cy="353.28" r="2.55"/>
<circle cx="247.21" cy="353.97" r="2.55"/>
<circle cx="250.3" cy="354.73" r="2.55"/>
<circle cx="253.39" cy="355.6" r="2.55"/>
<circle cx="256.48" cy="356.64" r="2.55"/>
<circle cx="259.57" cy="357.87" r="2.55"/>
<circle cx="262.66" cy="359.19" r="2.55"/>
<circle cx="265.74" cy="360.54" r="2.55"/>
<circle cx="268.83" cy="361.95" r="2.55"/>
<circle cx="271.92" cy="363.44" r="2.55"/>
<circle cx="275.01" cy="364.98" r="2.55"/>
<circle cx="278.1" cy="366.53" r="2.55"/>
<circle cx="281.19" cy="368.07" r="2.55"/>
<circle cx="284.28" cy="369.63" r="2.55"/>
<circle cx="287.37" cy="371.22" r="2.55"/>
<circle cx="290.46" cy="372.85" r="2.55"/>
<circle cx="293.54" cy="374.53" r="2.55"/>
<circle cx="296.63" cy="376.26" r="2.55"/>
<circle cx="299.72" cy="378.01" r="2.55"/>
<circle cx="302.81" cy="379.76" r="2.55"/>
<circle cx="305.9" cy="381.5" r="2.55"/>
<circle cx="308.99" cy="383.2" r="2.55"/>
<circle cx="312.08" cy="384.86" r="2.55"/>
<circle cx="315.17" cy="386.52" r="2.55"/>
<circle cx="318.26" cy="388.15" r="2.55"/>
<circle cx="321.34" cy="389.72" r="2.55"/>
<circle cx="324.43" cy="391.2" r="2.55"/>
<circle cx="327.52" cy="392.61" r="2.55"/>
<circle cx="330.61" cy="393.97" r="2.55"/>
<circle cx="333.7" cy="395.27" r="2.55"/>
<circle cx="336.79" cy="396.49" r="2.55"/>
<circle cx="339.88" cy="397.62" r="2.55"/>
<circle cx="342.97" cy="398.68" r="2.55"/>
<circle cx="346.06" cy="399.68" r="2.55"/>
<circle cx="349.14" cy="400.62" r="2.55"/>
<circle cx="352.23" cy="401.49" r="2.55"/>
<circle cx="355.32" cy="402.29" r="2.55"/>
<circle cx="358.41" cy="403.02" r="2.55"/>
<circle cx="361.5" cy="403.69" r="2.55"/>
<circle cx="364.59" cy="404.3" r="2.55"/>
<circle cx="367.68" cy="404.88" r="2.55"/>
<circle cx="370.77" cy="405.43" r="2.55"/>
<circle cx="373.86" cy="405.91" r="2.55"/>
<circle cx="376.94" cy="406.3" r="2.55"/>
<circle cx="380.03" cy="406.61" r="2.55"/>
<circle cx="383.12" cy="406.88" r="2.55"/>
<circle cx="386.21" cy="407.12" r="2.55"/>
<circle cx="389.3" cy="407.32" r="2.55"/>
<circle cx="392.39" cy="407.5" r="2.55"/>
<circle cx="395.48" cy="407.66" r="2.55"/>
<circle cx="398.57" cy="407.79" r="2.55"/>
<circle cx="401.66" cy="407.91" r="2.55"/>
<circle cx="404.74" cy="408" r="2.55"/>
<circle cx="407.83" cy="414.7" r="2.55"/>
<circle cx="410.92" cy="415.2" r="2.55"/>
<circle cx="414.01" cy="420.4" r="2.55"/>
<circle cx="417.1" cy="424.8" r="2.55"/>
<circle cx="420.19" cy="427.1" r="2.55"/>
<circle cx="423.28" cy="428" r="2.55"/>
<circle cx="426.37" cy="428.5" r="2.55"/>
<circle cx="429.46" cy="428.7" r="2.55"/>
<circle cx="432.54" cy="428.5" r="2.55"/>
<circle cx="435.63" cy="435.7" r="2.55"/>
<circle cx="438.72" cy="439.1" r="2.55"/>
<circle cx="441.81" cy="443.4" r="2.55"/>
<circle cx="444.9" cy="448.7" r="2.55"/>
<circle cx="447.99" cy="450.2" r="2.55"/>
<circle cx="451.08" cy="454.3" r="2.55"/>
<circle cx="454.17" cy="454.4" r="2.55"/>
<circle cx="457.26" cy="459.5" r="2.55"/>
<circle cx="460.34" cy="465.5" r="2.55"/>
<circle cx="463.43" cy="471.9" r="2.55"/>
<circle cx="466.52" cy="473.8" r="2.55"/>
<circle cx="469.61" cy="479.1" r="2.55"/>
<circle cx="472.7" cy="482" r="2.55"/>
<circle cx="475.79" cy="485.8" r="2.55"/>
<circle cx="478.88" cy="491.2" r="2.55"/>
<circle cx="481.97" cy="492.4" r="2.55"/>
<circle cx="485.06" cy="495.2" r="2.55"/>
<circle cx="488.14" cy="500.6" r="2.55"/>
</g>
<path d="M222.5 543.5 v-3.3 M222.5 333.5 v3.3 M253.5 543.5 v-3.3 M253.5 333.5 v3.3 M284.5 543.5 v-3.3 M284.5 333.5 v3.3 M315.5 543.5 v-3.3 M315.5 333.5 v3.3 M346.5 543.5 v-3.3 M346.5 333.5 v3.3 M376.5 543.5 v-3.3 M376.5 333.5 v3.3 M407.5 543.5 v-3.3 M407.5 333.5 v3.3 M438.5 543.5 v-3.3 M438.5 333.5 v3.3 M469.5 543.5 v-3.3 M469.5 333.5 v3.3 M500.5 543.5 v-3.3 M500.5 333.5 v3.3 M222.5 333.5 h3.3 M500.5 333.5 h-3.3 M222.5 357.5 h1.8 M500.5 357.5 h-1.8 M222.5 351.5 h1.8 M500.5 351.5 h-1.8 M222.5 347.5 h1.8 M500.5 347.5 h-1.8 M222.5 344.5 h1.8 M500.5 344.5 h-1.8 M222.5 341.5 h1.8 M500.5 341.5 h-1.8 M222.5 338.5 h1.8 M500.5 338.5 h-1.8 M222.5 336.5 h1.8 M500.5 336.5 h-1.8 M222.5 335.5 h1.8 M500.5 335.5 h-1.8 M222.5 368.5 h3.3 M500.5 368.5 h-3.3 M222.5 392.5 h1.8 M500.5 392.5 h-1.8 M222.5 386.5 h1.8 M500.5 386.5 h-1.8 M222.5 382.5 h1.8 M500.5 382.5 h-1.8 M222.5 379.5 h1.8 M500.5 379.5 h-1.8 M222.5 376.5 h1.8 M500.5 376.5 h-1.8 M222.5 373.5 h1.8 M500.5 373.5 h-1.8 M222.5 371.5 h1.8 M500.5 371.5 h-1.8 M222.5 370.5 h1.8 M500.5 370.5 h-1.8 M222.5 403.5 h3.3 M500.5 403.5 h-3.3 M222.5 427.5 h1.8 M500.5 427.5 h-1.8 M222.5 421.5 h1.8 M500.5 421.5 h-1.8 M222.5 417.5 h1.8 M500.5 417.5 h-1.8 M222.5 414.5 h1.8 M500.5 414.5 h-1.8 M222.5 411.5 h1.8 M500.5 411.5 h-1.8 M222.5 408.5 h1.8 M500.5 408.5 h-1.8 M222.5 406.5 h1.8 M500.5 406.5 h-1.8 M222.5 405.5 h1.8 M500.5 405.5 h-1.8 M222.5 438.5 h3.3 M500.5 438.5 h-3.3 M222.5 462.5 h1.8 M500.5 462.5 h-1.8 M222.5 456.5 h1.8 M500.5 456.5 h-1.8 M222.5 452.5 h1.8 M500.5 452.5 h-1.8 M222.5 449.5 h1.8 M500.5 449.5 h-1.8 M222.5 446.5 h1.8 M500.5 446.5 h-1.8 M222.5 443.5 h1.8 M500.5 443.5 h-1.8 M222.5 441.5 h1.8 M500.5 441.5 h-1.8 M222.5 440.5 h1.8 M500.5 440.5 h-1.8 M222.5 473.5 h3.3 M500.5 473.5 h-3.3 M222.5 497.5 h1.8 M500.5 497.5 h-1.8 M222.5 491.5 h1.8 M500.5 491.5 h-1.8 M222.5 487.5 h1.8 M500.5 487.5 h-1.8 M222.5 484.5 h1.8 M500.5 484.5 h-1.8 M222.5 481.5 h1.8 M500.5 481.5 h-1.8 M222.5 478.5 h1.8 M500.5 478.5 h-1.8 M222.5 476.5 h1.8 M500.5 476.5 h-1.8 M222.5 475.5 h1.8 M500.5 475.5 h-1.8 M222.5 508.5 h3.3 M500.5 508.5 h-3.3 M222.5 532.5 h1.8 M500.5 532.5 h-1.8 M222.5 526.5 h1.8 M500.5 526.5 h-1.8 M222.5 522.5 h1.8 M500.5 522.5 h-1.8 M222.5 519.5 h1.8 M500.5 519.5 h-1.8 M222.5 516.5 h1.8 M500.5 516.5 h-1.8 M222.5 513.5 h1.8 M500.5 513.5 h-1.8 M222.5 511.5 h1.8 M500.5 511.5 h-1.8 M222.5 510.5 h1.8 M500.5 510.5 h-1.8 M222.5 543.5 h3.3 M500.5 543.5 h-3.3" fill="none" stroke="#6c6c6c" stroke-width="1"/>
<rect x="222.5" y="333.5" width="278" height="210" fill="none" stroke="#6c6c6c" stroke-width="1.0"/>
<rect x="407.5" y="335.4" width="91" height="30.1" fill="#fff" stroke="#6a6a6a" stroke-width="1"/>
<path d="M410 344 H435" stroke="#0000ff" stroke-width="1.4"/>
<circle cx="422.8" cy="344" r="2.55" fill="none" stroke="#0000ff" stroke-width="1.3"/>
<path d="M410 357.5 H435" stroke="#000" stroke-width="1.4"/>
<circle cx="422.8" cy="357.5" r="2.55" fill="#000"/>
<path d="M479 343.5 h7.6 M479 345.5 h7.6 M480.2 349.15 L485.3 338.95" fill="none" stroke="#1a1a1a" stroke-width="0.75"/>
<path d="M479 356.5 h7.6 M479 358.5 h7.6" fill="none" stroke="#1a1a1a" stroke-width="0.75"/>
<g class="txt">
<g font-family="Liberation Sans, sans-serif" fill="#262626" stroke="#262626" stroke-width="0.2">
<text x="42.5" y="227" font-size="8.2" text-anchor="middle">0</text>
<text x="77.25" y="227" font-size="8.2" text-anchor="middle">10</text>
<text x="112" y="227" font-size="8.2" text-anchor="middle">20</text>
<text x="146.75" y="227" font-size="8.2" text-anchor="middle">30</text>
<text x="181.5" y="227" font-size="8.2" text-anchor="middle">40</text>
<text x="216.25" y="227" font-size="8.2" text-anchor="middle">50</text>
<text x="251" y="227" font-size="8.2" text-anchor="middle">60</text>
<text x="285.75" y="227" font-size="8.2" text-anchor="middle">70</text>
<text x="320.5" y="227" font-size="8.2" text-anchor="middle">80</text>
<text x="39.4" y="8.7" text-anchor="end"><tspan font-size="8.2">10</tspan><tspan font-size="7.4" dy="-2.7">1</tspan></text>
<text x="39.4" y="38.7" text-anchor="end"><tspan font-size="8.2">10</tspan><tspan font-size="7.4" dy="-2.7">0</tspan></text>
<text x="39.4" y="68.7" text-anchor="end"><tspan font-size="8.2">10</tspan><tspan font-size="7.4" dy="-2.7">-1</tspan></text>
<text x="39.4" y="98.7" text-anchor="end"><tspan font-size="8.2">10</tspan><tspan font-size="7.4" dy="-2.7">-2</tspan></text>
<text x="39.4" y="128.7" text-anchor="end"><tspan font-size="8.2">10</tspan><tspan font-size="7.4" dy="-2.7">-3</tspan></text>
<text x="39.4" y="158.7" text-anchor="end"><tspan font-size="8.2">10</tspan><tspan font-size="7.4" dy="-2.7">-4</tspan></text>
<text x="39.4" y="188.7" text-anchor="end"><tspan font-size="8.2">10</tspan><tspan font-size="7.4" dy="-2.7">-5</tspan></text>
<text x="39.4" y="218.7" text-anchor="end"><tspan font-size="8.2">10</tspan><tspan font-size="7.4" dy="-2.7">-6</tspan></text>
</g>
<text x="258.4" y="16.65" font-family="Liberation Serif, serif" fill="#1a1a1a" font-size="11" textLength="28.3" lengthAdjust="spacingAndGlyphs">Alg.1,</text>
<text x="286.8" y="16.65" font-family="Liberation Serif, serif" fill="#1a1a1a" font-size="11" font-style="italic">ξ</text>
<text x="292.2" y="18.25" font-family="Liberation Serif, serif" fill="#1a1a1a" font-size="7.7" font-style="italic">k</text>
<text x="311.3" y="16.65" font-family="Liberation Serif, serif" fill="#1a1a1a" font-size="11">0</text>
<text x="258.4" y="30.35" font-family="Liberation Serif, serif" fill="#1a1a1a" font-size="11" textLength="28.3" lengthAdjust="spacingAndGlyphs">Alg.1,</text>
<text x="286.8" y="30.35" font-family="Liberation Serif, serif" fill="#1a1a1a" font-size="11" font-style="italic">ξ</text>
<text x="292.2" y="31.95" font-family="Liberation Serif, serif" fill="#1a1a1a" font-size="7.7" font-style="italic">k</text>
<text x="311.3" y="30.35" font-family="Liberation Serif, serif" fill="#1a1a1a" font-size="11">0</text>
<text x="181.5" y="248.1" font-family="Liberation Serif, serif" font-size="16.3" fill="#000" text-anchor="middle" textLength="136" lengthAdjust="spacingAndGlyphs">Number of iterations</text>
<text transform="translate(12.9 109.8) rotate(-90)" font-family="Liberation Serif, serif" font-style="italic" font-size="17.6" fill="#000" text-anchor="middle" textLength="61.4" lengthAdjust="spacing"><tspan font-style="normal" font-size="18.6" dy="0.6">{</tspan><tspan font-size="19" dy="-0.6">E</tspan>rror<tspan font-style="normal" font-size="18.6" dy="0.6">}</tspan></text>
<text x="97.3" y="291.8" font-family="Liberation Serif, serif" font-size="16.8" fill="#000" textLength="22.6" lengthAdjust="spacing">(<tspan font-size="12.9">A</tspan>)</text>
<text x="126.5" y="291.8" font-family="Liberation Serif, serif" font-size="16.8" fill="#000" textLength="62" lengthAdjust="spacingAndGlyphs">Choice 1</text>
<g font-family="Liberation Sans, sans-serif" fill="#262626" stroke="#262626" stroke-width="0.2">
<text x="402.5" y="227" font-size="8.2" text-anchor="middle">0</text>
<text x="442.21" y="227" font-size="8.2" text-anchor="middle">10</text>
<text x="481.93" y="227" font-size="8.2" text-anchor="middle">20</text>
<text x="521.64" y="227" font-size="8.2" text-anchor="middle">30</text>
<text x="561.36" y="227" font-size="8.2" text-anchor="middle">40</text>
<text x="601.07" y="227" font-size="8.2" text-anchor="middle">50</text>
<text x="640.79" y="227" font-size="8.2" text-anchor="middle">60</text>
<text x="680.5" y="227" font-size="8.2" text-anchor="middle">70</text>
<text x="399.4" y="8.7" text-anchor="end"><tspan font-size="8.2">10</tspan><tspan font-size="7.4" dy="-2.7">1</tspan></text>
<text x="399.4" y="50.7" text-anchor="end"><tspan font-size="8.2">10</tspan><tspan font-size="7.4" dy="-2.7">0</tspan></text>
<text x="399.4" y="92.7" text-anchor="end"><tspan font-size="8.2">10</tspan><tspan font-size="7.4" dy="-2.7">-1</tspan></text>
<text x="399.4" y="134.7" text-anchor="end"><tspan font-size="8.2">10</tspan><tspan font-size="7.4" dy="-2.7">-2</tspan></text>
<text x="399.4" y="176.7" text-anchor="end"><tspan font-size="8.2">10</tspan><tspan font-size="7.4" dy="-2.7">-3</tspan></text>
<text x="399.4" y="218.7" text-anchor="end"><tspan font-size="8.2">10</tspan><tspan font-size="7.4" dy="-2.7">-4</tspan></text>
</g>
<text x="616.4" y="17.85" font-family="Liberation Serif, serif" fill="#1a1a1a" font-size="11" textLength="28.3" lengthAdjust="spacingAndGlyphs">Alg.1,</text>
<text x="644.8" y="17.85" font-family="Liberation Serif, serif" fill="#1a1a1a" font-size="11" font-style="italic">ξ</text>
<text x="650.2" y="19.45" font-family="Liberation Serif, serif" fill="#1a1a1a" font-size="7.7" font-style="italic">k</text>
<text x="669.3" y="17.85" font-family="Liberation Serif, serif" fill="#1a1a1a" font-size="11">0</text>
<text x="616.4" y="31.45" font-family="Liberation Serif, serif" fill="#1a1a1a" font-size="11" textLength="28.3" lengthAdjust="spacingAndGlyphs">Alg.1,</text>
<text x="644.8" y="31.45" font-family="Liberation Serif, serif" fill="#1a1a1a" font-size="11" font-style="italic">ξ</text>
<text x="650.2" y="33.05" font-family="Liberation Serif, serif" fill="#1a1a1a" font-size="7.7" font-style="italic">k</text>
<text x="669.3" y="31.45" font-family="Liberation Serif, serif" fill="#1a1a1a" font-size="11">0</text>
<text x="541.5" y="248.1" font-family="Liberation Serif, serif" font-size="16.3" fill="#000" text-anchor="middle" textLength="136" lengthAdjust="spacingAndGlyphs">Number of iterations</text>
<text transform="translate(372.4 109.8) rotate(-90)" font-family="Liberation Serif, serif" font-style="italic" font-size="17.6" fill="#000" text-anchor="middle" textLength="61.4" lengthAdjust="spacing"><tspan font-style="normal" font-size="18.6" dy="0.6">{</tspan><tspan font-size="19" dy="-0.6">E</tspan>rror<tspan font-style="normal" font-size="18.6" dy="0.6">}</tspan></text>
<text x="457.3" y="291.8" font-family="Liberation Serif, serif" font-size="16.8" fill="#000" textLength="22.6" lengthAdjust="spacing">(<tspan font-size="12.9">B</tspan>)</text>
<text x="486.5" y="291.8" font-family="Liberation Serif, serif" font-size="16.8" fill="#000" textLength="62" lengthAdjust="spacingAndGlyphs">Choice 2</text>
<g font-family="Liberation Sans, sans-serif" fill="#262626" stroke="#262626" stroke-width="0.2">
<text x="222.5" y="556" font-size="8.2" text-anchor="middle">0</text>
<text x="253.39" y="556" font-size="8.2" text-anchor="middle">10</text>
<text x="284.28" y="556" font-size="8.2" text-anchor="middle">20</text>
<text x="315.17" y="556" font-size="8.2" text-anchor="middle">30</text>
<text x="346.06" y="556" font-size="8.2" text-anchor="middle">40</text>
<text x="376.94" y="556" font-size="8.2" text-anchor="middle">50</text>
<text x="407.83" y="556" font-size="8.2" text-anchor="middle">60</text>
<text x="438.72" y="556" font-size="8.2" text-anchor="middle">70</text>
<text x="469.61" y="556" font-size="8.2" text-anchor="middle">80</text>
<text x="500.5" y="556" font-size="8.2" text-anchor="middle">90</text>
<text x="219.4" y="337.7" text-anchor="end"><tspan font-size="8.2">10</tspan><tspan font-size="7.4" dy="-2.7">1</tspan></text>
<text x="219.4" y="372.7" text-anchor="end"><tspan font-size="8.2">10</tspan><tspan font-size="7.4" dy="-2.7">0</tspan></text>
<text x="219.4" y="407.7" text-anchor="end"><tspan font-size="8.2">10</tspan><tspan font-size="7.4" dy="-2.7">-1</tspan></text>
<text x="219.4" y="442.7" text-anchor="end"><tspan font-size="8.2">10</tspan><tspan font-size="7.4" dy="-2.7">-2</tspan></text>
<text x="219.4" y="477.7" text-anchor="end"><tspan font-size="8.2">10</tspan><tspan font-size="7.4" dy="-2.7">-3</tspan></text>
<text x="219.4" y="512.7" text-anchor="end"><tspan font-size="8.2">10</tspan><tspan font-size="7.4" dy="-2.7">-4</tspan></text>
<text x="219.4" y="547.7" text-anchor="end"><tspan font-size="8.2">10</tspan><tspan font-size="7.4" dy="-2.7">-5</tspan></text>
</g>
<text x="437.4" y="347.15" font-family="Liberation Serif, serif" fill="#1a1a1a" font-size="11" textLength="28.3" lengthAdjust="spacingAndGlyphs">Alg.1,</text>
<text x="465.8" y="347.15" font-family="Liberation Serif, serif" fill="#1a1a1a" font-size="11" font-style="italic">ξ</text>
<text x="471.2" y="348.75" font-family="Liberation Serif, serif" fill="#1a1a1a" font-size="7.7" font-style="italic">k</text>
<text x="490.3" y="347.15" font-family="Liberation Serif, serif" fill="#1a1a1a" font-size="11">0</text>
<text x="437.4" y="360.65" font-family="Liberation Serif, serif" fill="#1a1a1a" font-size="11" textLength="28.3" lengthAdjust="spacingAndGlyphs">Alg.1,</text>
<text x="465.8" y="360.65" font-family="Liberation Serif, serif" fill="#1a1a1a" font-size="11" font-style="italic">ξ</text>
<text x="471.2" y="362.25" font-family="Liberation Serif, serif" fill="#1a1a1a" font-size="7.7" font-style="italic">k</text>
<text x="490.3" y="360.65" font-family="Liberation Serif, serif" fill="#1a1a1a" font-size="11">0</text>
<text x="361.5" y="577.6" font-family="Liberation Serif, serif" font-size="16.3" fill="#000" text-anchor="middle" textLength="136" lengthAdjust="spacingAndGlyphs">Number of iterations</text>
<text transform="translate(192.4 438.8) rotate(-90)" font-family="Liberation Serif, serif" font-style="italic" font-size="17.6" fill="#000" text-anchor="middle" textLength="61.4" lengthAdjust="spacing"><tspan font-style="normal" font-size="18.6" dy="0.6">{</tspan><tspan font-size="19" dy="-0.6">E</tspan>rror<tspan font-style="normal" font-size="18.6" dy="0.6">}</tspan></text>
<text x="277.3" y="620.8" font-family="Liberation Serif, serif" font-size="16.8" fill="#000" textLength="22.6" lengthAdjust="spacing">(<tspan font-size="12.9">C</tspan>)</text>
<text x="306.5" y="620.8" font-family="Liberation Serif, serif" font-size="16.8" fill="#000" textLength="62" lengthAdjust="spacingAndGlyphs">Choice 3</text>
</g>
</svg>
</body>
</html>
